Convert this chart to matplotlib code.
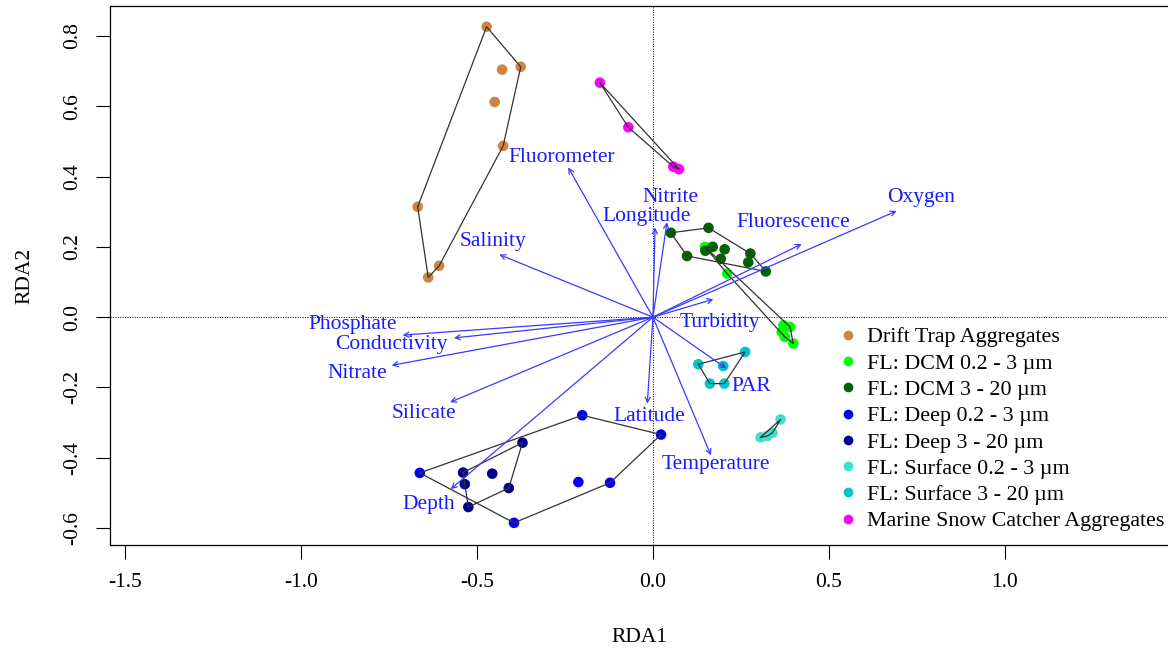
import numpy as np
import matplotlib.pyplot as plt
from matplotlib.lines import Line2D

plt.rcParams['font.family'] = ['Liberation Serif', 'DejaVu Serif']

# site scores, one pair of arrays per sample group
drift_x = [-0.473, -0.376, -0.429, -0.450, -0.426, -0.669, -0.608, -0.639]
drift_y = [0.826, 0.712, 0.704, 0.612, 0.487, 0.314, 0.146, 0.113]

dcm_small_x = [0.148, 0.211, 0.371, 0.390, 0.366, 0.375, 0.399]
dcm_small_y = [0.200, 0.124, -0.023, -0.028, -0.042, -0.056, -0.075]

dcm_large_x = [0.051, 0.158, 0.170, 0.204, 0.149, 0.097, 0.193, 0.277, 0.271, 0.321]
dcm_large_y = [0.240, 0.254, 0.200, 0.193, 0.189, 0.174, 0.166, 0.181, 0.156, 0.130]

deep_small_x = [-0.201, 0.023, -0.663, -0.212, -0.122, -0.395]
deep_small_y = [-0.279, -0.334, -0.443, -0.469, -0.471, -0.585]

deep_large_x = [-0.371, -0.540, -0.457, -0.535, -0.410, -0.525]
deep_large_y = [-0.357, -0.442, -0.445, -0.475, -0.486, -0.540]

surf_small_x = [0.363, 0.306, 0.325, 0.340]
surf_small_y = [-0.291, -0.342, -0.338, -0.329]

surf_large_x = [0.262, 0.129, 0.200, 0.162, 0.203]
surf_large_y = [-0.099, -0.134, -0.139, -0.189, -0.189]

msc_x = [-0.151, -0.070, 0.058, 0.074]
msc_y = [0.667, 0.540, 0.428, 0.421]

group_names = ['Drift Trap Aggregates', 'FL: DCM 0.2 - 3 µm', 'FL: DCM 3 - 20 µm',
               'FL: Deep 0.2 - 3 µm', 'FL: Deep 3 - 20 µm', 'FL: Surface 0.2 - 3 µm',
               'FL: Surface 3 - 20 µm', 'Marine Snow Catcher Aggregates']
group_colors = ['#CD853F', '#00FF00', '#006400', '#0000EE', '#00008B',
                '#40E0D0', '#00C5CD', '#FF00FF']
group_x = [drift_x, dcm_small_x, dcm_large_x, deep_small_x, deep_large_x,
           surf_small_x, surf_large_x, msc_x]
group_y = [drift_y, dcm_small_y, dcm_large_y, deep_small_y, deep_large_y,
           surf_small_y, surf_large_y, msc_y]

# environmental vectors
env_names = ['Fluorometer', 'Salinity', 'Longitude', 'Nitrite', 'Oxygen', 'Fluorescence',
             'Turbidity', 'PAR', 'Temperature', 'Latitude', 'Depth', 'Silicate',
             'Nitrate', 'Conductivity', 'Phosphate']
arrow_x = [-0.241, -0.437, 0.006, 0.040, 0.693, 0.423, 0.172, 0.209, 0.165, -0.016,
           -0.575, -0.577, -0.743, -0.566, -0.712]
arrow_y = [0.426, 0.178, 0.255, 0.270, 0.302, 0.208, 0.051, -0.146, -0.393, -0.246,
           -0.489, -0.242, -0.137, -0.059, -0.051]
label_x = [-0.260, -0.456, -0.018, 0.051, 0.762, 0.398, 0.191, 0.279, 0.179, -0.011,
           -0.637, -0.651, -0.842, -0.745, -0.853]
label_y = [0.455, 0.214, 0.287, 0.341, 0.339, 0.270, -0.014, -0.196, -0.418, -0.282,
           -0.532, -0.273, -0.159, -0.077, -0.020]

x_ticks = [-1.5, -1.0, -0.5, 0.0, 0.5, 1.0]
y_ticks = [-0.6, -0.4, -0.2, 0.0, 0.2, 0.4, 0.6, 0.8]


def convex_hull(xs, ys):
    # monotone chain, returns closed polygon
    pts = sorted(set(zip(xs, ys)))
    def cross(o, a, b):
        return (a[0]-o[0])*(b[1]-o[1]) - (a[1]-o[1])*(b[0]-o[0])
    lower = []
    for p in pts:
        while len(lower) >= 2 and cross(lower[-2], lower[-1], p) <= 0:
            lower.pop()
        lower.append(p)
    upper = []
    for p in reversed(pts):
        while len(upper) >= 2 and cross(upper[-2], upper[-1], p) <= 0:
            upper.pop()
        upper.append(p)
    hull = lower[:-1] + upper[:-1]
    hull.append(hull[0])
    return np.array(hull)


fig = plt.figure(figsize=(11.68, 6.51), dpi=100)
ax = fig.add_axes([110/1168, 1-545/651, 1-110/1168, (545-6)/651])

ax.axhline(0, color='black', lw=0.7, ls=(0, (1, 1.5)), zorder=1)
ax.axvline(0, color='black', lw=0.7, ls=(0, (1, 1.5)), zorder=1)

for gx, gy, col in zip(group_x, group_y, group_colors):
    ax.scatter(gx, gy, s=58, color=col, edgecolors='none', zorder=3)

for gx, gy in zip(group_x, group_y):
    h = convex_hull(gx, gy)
    ax.plot(h[:, 0], h[:, 1], color='#333333', lw=0.9, zorder=4)

for ex, ey in zip(arrow_x, arrow_y):
    ax.annotate('', xy=(ex, ey), xytext=(0, 0),
                arrowprops=dict(arrowstyle='->', color='#3a3aff', lw=0.9,
                                shrinkA=0, shrinkB=0, mutation_scale=9),
                zorder=5)

for name, lx, ly in zip(env_names, label_x, label_y):
    ax.text(lx, ly, name, color='#1a1aff', fontsize=15.5, ha='center', va='center', zorder=6)

ax.set_xlim(-1.544, (1168-653)/351.6)
ax.set_ylim(-0.648, 0.885)
ax.set_xticks(x_ticks)
ax.set_xticklabels(['%.1f' % v for v in x_ticks])
ax.set_yticks(y_ticks)
ax.set_yticklabels(['%.1f' % v for v in y_ticks], rotation=90, va='center')
ax.tick_params(direction='out', length=10, width=0.8, labelsize=15.5, pad=10)
ax.spines['right'].set_visible(False)
for s in ['left', 'bottom', 'top']:
    ax.spines[s].set_linewidth(0.9)
ax.set_xlabel('RDA1', fontsize=15.5, labelpad=26)
ax.set_ylabel('RDA2', fontsize=15.5, labelpad=21)

handles = [Line2D([], [], marker='o', ls='none', markersize=7, color=c, markeredgewidth=0)
           for c in group_colors]
fig.legend(handles, group_names, loc='upper left', bbox_to_anchor=(837/1168, 1-327/651),
           frameon=False, fontsize=15.8, handlelength=1.0, handletextpad=0.37,
           labelspacing=0.27, borderpad=0, borderaxespad=0)

fig.savefig('out.png', dpi=100)
